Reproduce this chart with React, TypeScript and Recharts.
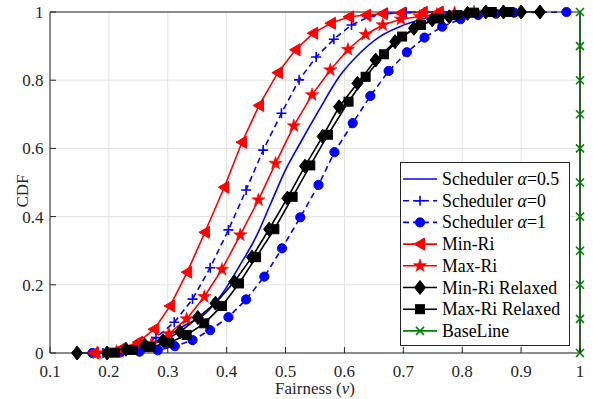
import { CartesianGrid, ComposedChart, Label, Legend, Line, XAxis, YAxis } from "recharts";

const FONT = "Liberation Serif, DejaVu Serif, serif";
const AXIS = "#262626";
const GRID = "#e2e2e2";
const RED = "#ff0000";
const BLUE = "#0000ff";
const BLACK = "#000000";
const GREEN = "#008000";

const X_TICKS = [0.1, 0.2, 0.3, 0.4, 0.5, 0.6, 0.7, 0.8, 0.9, 1];
const X_LABELS = ["0.1", "0.2", "0.3", "0.4", "0.5", "0.6", "0.7", "0.8", "0.9", "1"];
const Y_TICKS = [0, 0.2, 0.4, 0.6, 0.8, 1];
const Y_LABELS = ["0", "0.2", "0.4", "0.6", "0.8", "1"];

// Scheduler alpha=0.5 (plain blue line)
const sched05X = [0.19, 0.21, 0.24, 0.27, 0.3, 0.33, 0.364, 0.393, 0.421, 0.45, 0.475, 0.5, 0.523, 0.557, 0.591, 0.626, 0.66, 0.694, 0.728, 0.762, 0.8, 0.84];
const sched05Y = [0, 0.002, 0.01, 0.025, 0.05, 0.082, 0.116, 0.175, 0.253, 0.341, 0.439, 0.537, 0.61, 0.713, 0.81, 0.879, 0.928, 0.957, 0.977, 0.991, 0.998, 1];

// Scheduler alpha=0 (plus markers, dashed)
const sched0X = [0.19, 0.22, 0.25, 0.28, 0.311, 0.342, 0.372, 0.403, 0.433, 0.462, 0.493, 0.523, 0.552, 0.582, 0.612, 0.643, 0.673, 0.705, 0.736, 0.767];
const sched0Y = [0, 0.005, 0.018, 0.045, 0.09, 0.158, 0.25, 0.361, 0.478, 0.595, 0.703, 0.801, 0.868, 0.92, 0.962, 0.987, 0.996, 0.999, 1, 1];

// Scheduler alpha=1 (circle markers, dashed)
const sched1X = [0.172, 0.22, 0.252, 0.283, 0.312, 0.342, 0.372, 0.403, 0.433, 0.464, 0.494, 0.525, 0.556, 0.583, 0.614, 0.644, 0.675, 0.706, 0.736, 0.766, 0.797, 0.827, 0.857, 0.888, 0.977];
const sched1Y = [0, 0.002, 0.004, 0.008, 0.02, 0.038, 0.067, 0.105, 0.157, 0.224, 0.307, 0.398, 0.493, 0.589, 0.674, 0.754, 0.827, 0.882, 0.925, 0.957, 0.979, 0.991, 0.995, 0.998, 1];

// Min-Ri (left triangles)
const minRiX = [0.175, 0.22, 0.25, 0.277, 0.304, 0.333, 0.363, 0.396, 0.426, 0.455, 0.487, 0.517, 0.547, 0.577, 0.608, 0.637, 0.665, 0.696, 0.733, 0.76];
const minRiY = [0, 0.012, 0.032, 0.07, 0.138, 0.237, 0.354, 0.486, 0.618, 0.726, 0.822, 0.889, 0.938, 0.967, 0.986, 0.991, 0.995, 0.997, 0.999, 1];

// Max-Ri (stars)
const maxRiX = [0.18, 0.213, 0.243, 0.273, 0.302, 0.332, 0.362, 0.392, 0.423, 0.454, 0.483, 0.514, 0.545, 0.576, 0.606, 0.636, 0.665, 0.696, 0.728, 0.757, 0.787, 0.82];
const maxRiY = [0, 0.004, 0.014, 0.028, 0.056, 0.1, 0.165, 0.245, 0.346, 0.449, 0.556, 0.666, 0.757, 0.83, 0.89, 0.934, 0.962, 0.979, 0.987, 0.993, 0.997, 1];

// Min-Ri Relaxed (diamonds)
const minRelX = [0.146, 0.197, 0.229, 0.261, 0.292, 0.321, 0.351, 0.381, 0.413, 0.443, 0.472, 0.503, 0.533, 0.563, 0.591, 0.622, 0.653, 0.686, 0.718, 0.749, 0.778, 0.809, 0.84, 0.87, 0.9, 0.932];
const minRelY = [0, 0, 0.011, 0.023, 0.036, 0.062, 0.104, 0.146, 0.209, 0.281, 0.363, 0.454, 0.548, 0.635, 0.722, 0.791, 0.859, 0.913, 0.952, 0.977, 0.986, 0.996, 1, 1, 1, 1];

// Max-Ri Relaxed (squares)
const maxRelX = [0.21, 0.241, 0.271, 0.302, 0.332, 0.362, 0.392, 0.421, 0.45, 0.481, 0.512, 0.542, 0.572, 0.607, 0.636, 0.667, 0.698, 0.73, 0.761, 0.792, 0.82, 0.85, 0.88];
const maxRelY = [0.001, 0.009, 0.018, 0.03, 0.053, 0.087, 0.138, 0.204, 0.281, 0.363, 0.458, 0.55, 0.64, 0.737, 0.81, 0.876, 0.928, 0.962, 0.981, 0.991, 0.998, 1, 1];

// BaseLine (x markers at fairness 1)
const baseX = [1, 1, 1, 1, 1, 1, 1, 1, 1, 1, 1];
const baseY = [0, 0.1, 0.2, 0.3, 0.4, 0.5, 0.6, 0.7, 0.8, 0.9, 1];

const zip = (xs: number[], ys: number[]) => xs.map((x, i) => ({ x, y: ys[i] }));

type Marker = "none" | "plus" | "circle" | "triLeft" | "star" | "diamond" | "square" | "cross";

function MarkerShape({ cx, cy, kind, color }: { cx: number; cy: number; kind: Marker; color: string }) {
  switch (kind) {
    case "plus":
      return <path d={`M${cx - 5},${cy}H${cx + 5}M${cx},${cy - 5}V${cy + 5}`} stroke={color} strokeWidth={1.6} fill="none" />;
    case "cross":
      return <path d={`M${cx - 4},${cy - 4}L${cx + 4},${cy + 4}M${cx - 4},${cy + 4}L${cx + 4},${cy - 4}`} stroke={color} strokeWidth={1.6} fill="none" />;
    case "circle":
      return <circle cx={cx} cy={cy} r={4.6} fill={color} stroke={color} />;
    case "triLeft":
      return <polygon points={`${cx - 6},${cy} ${cx + 4.5},${cy - 6} ${cx + 4.5},${cy + 6}`} fill={color} stroke={color} />;
    case "diamond":
      return <polygon points={`${cx},${cy - 7} ${cx + 5.5},${cy} ${cx},${cy + 7} ${cx - 5.5},${cy}`} fill={color} stroke={color} />;
    case "square":
      return <rect x={cx - 4.5} y={cy - 4.5} width={9} height={9} fill={color} stroke={color} />;
    case "star": {
      const pts: string[] = [];
      for (let k = 0; k < 10; k++) {
        const r = k % 2 === 0 ? 7 : 2.8;
        const a = -Math.PI / 2 + (k * Math.PI) / 5;
        pts.push(`${cx + r * Math.cos(a)},${cy + r * Math.sin(a)}`);
      }
      return <polygon points={pts.join(" ")} fill={color} stroke={color} strokeWidth={0.5} />;
    }
    default:
      return null;
  }
}

type Series = {
  key: string;
  label: React.ReactNode;
  color: string;
  dash?: string;
  marker: Marker;
  smooth?: boolean;
  data: { x: number; y: number }[];
};

const alpha = (v: string) => (
  <>
    Scheduler <tspan fontStyle="italic">α</tspan>={v}
  </>
);

const SERIES: Series[] = [
  { key: "s05", label: alpha("0.5"), color: BLUE, marker: "none", smooth: true, data: zip(sched05X, sched05Y) },
  { key: "s0", label: alpha("0"), color: BLUE, dash: "6 4", marker: "plus", data: zip(sched0X, sched0Y) },
  { key: "s1", label: alpha("1"), color: BLUE, dash: "6 4", marker: "circle", data: zip(sched1X, sched1Y) },
  { key: "minRi", label: "Min-Ri", color: RED, marker: "triLeft", data: zip(minRiX, minRiY) },
  { key: "maxRi", label: "Max-Ri", color: RED, marker: "star", data: zip(maxRiX, maxRiY) },
  { key: "minRel", label: "Min-Ri Relaxed", color: BLACK, marker: "diamond", data: zip(minRelX, minRelY) },
  { key: "maxRel", label: "Max-Ri Relaxed", color: BLACK, marker: "square", data: zip(maxRelX, maxRelY) },
  { key: "base", label: "BaseLine", color: GREEN, marker: "cross", data: zip(baseX, baseY) },
];

const textStyle = { fontFamily: FONT, fontSize: 17 };

type TickProps = { x?: number; y?: number; index?: number };

function BottomTick({ x = 0, y = 0, index = 0 }: TickProps) {
  return (
    <g>
      <line x1={x} y1={y} x2={x} y2={y - 6} stroke={AXIS} />
      <text x={x} y={y + 24} textAnchor="middle" style={textStyle} fill={AXIS}>
        {X_LABELS[index]}
      </text>
    </g>
  );
}

function TopTick({ x = 0, y = 0 }: TickProps) {
  return <line x1={x} y1={y} x2={x} y2={y + 6} stroke={AXIS} />;
}

function LeftTick({ x = 0, y = 0, index = 0 }: TickProps) {
  return (
    <g>
      <line x1={x} y1={y} x2={x + 6} y2={y} stroke={AXIS} />
      <text x={x - 6.5} y={y + 6} textAnchor="end" style={textStyle} fill={AXIS}>
        {Y_LABELS[index]}
      </text>
    </g>
  );
}

function RightTick({ x = 0, y = 0 }: TickProps) {
  return <line x1={x} y1={y} x2={x - 6} y2={y} stroke={AXIS} />;
}

function LegendBox() {
  const rowH = 21.7;
  return (
    <svg width={170} height={184} style={{ display: "block" }}>
      <rect x={0.5} y={0.5} width={169} height={183} fill="#fff" stroke={AXIS} strokeWidth={1} />
      {SERIES.map((s, i) => {
        const cy = 17 + i * rowH;
        return (
          <g key={s.key}>
            <line x1={3} y1={cy} x2={37} y2={cy} stroke={s.color} strokeWidth={1.6} strokeDasharray={s.dash} />
            <MarkerShape cx={20} cy={cy} kind={s.marker} color={s.color} />
            <text x={42} y={cy + 6} style={{ fontFamily: FONT, fontSize: 17.8 }} fill="#000">
              {s.label}
            </text>
          </g>
        );
      })}
    </svg>
  );
}

export default function App() {
  return (
    <div style={{ position: "absolute", left: 0, top: 0, width: 593, height: 399, background: "#fff" }}>
      <ComposedChart width={593} height={399} margin={{ top: 0, right: 0, bottom: 0, left: 0 }}>
        <CartesianGrid stroke={GRID} strokeWidth={1} />
        <XAxis
          dataKey="x"
          type="number"
          domain={[0.1, 1]}
          ticks={X_TICKS}
          interval={0}
          height={46}
          tickSize={0}
          tickMargin={0}
          tickLine={false}
          axisLine={{ stroke: AXIS }}
          tick={(p: object) => <BottomTick {...(p as TickProps)} />}
        >
          <Label
            content={() => (
              <text x={315} y={394} textAnchor="middle" style={textStyle} fill={AXIS}>
                Fairness (<tspan fontStyle="italic">ν</tspan>)
              </text>
            )}
          />
        </XAxis>
        <XAxis
          xAxisId="top"
          orientation="top"
          type="number"
          domain={[0.1, 1]}
          ticks={X_TICKS}
          interval={0}
          height={12}
          tickSize={0}
          tickMargin={0}
          tickLine={false}
          axisLine={{ stroke: AXIS }}
          tick={(p: object) => <TopTick {...(p as TickProps)} />}
        />
        <YAxis
          type="number"
          domain={[0, 1]}
          ticks={Y_TICKS}
          interval={0}
          width={50}
          tickSize={0}
          tickMargin={0}
          tickLine={false}
          axisLine={{ stroke: AXIS }}
          tick={(p: object) => <LeftTick {...(p as TickProps)} />}
        >
          <Label
            content={() => (
              <text
                x={22}
                y={191}
                transform="rotate(-90, 22, 191)"
                textAnchor="middle"
                dominantBaseline="central"
                style={textStyle}
                fill={AXIS}
              >
                CDF
              </text>
            )}
          />
        </YAxis>
        <YAxis
          yAxisId="right"
          orientation="right"
          type="number"
          domain={[0, 1]}
          ticks={Y_TICKS}
          interval={0}
          width={13}
          tickSize={0}
          tickMargin={0}
          tickLine={false}
          axisLine={{ stroke: AXIS }}
          tick={(p: object) => <RightTick {...(p as TickProps)} />}
        />
        {SERIES.map((s) => (
          <Line
            key={s.key}
            data={s.data}
            dataKey="y"
            type={s.smooth ? "monotone" : "linear"}
            stroke={s.color}
            strokeWidth={1.6}
            strokeDasharray={s.dash}
            isAnimationActive={false}
            activeDot={false}
            dot={
              s.marker === "none"
                ? false
                : (p: { cx?: number; cy?: number; index?: number }) => (
                    <MarkerShape key={`${s.key}-${p.index}`} cx={p.cx ?? 0} cy={p.cy ?? 0} kind={s.marker} color={s.color} />
                  )
            }
          />
        ))}
        <Legend
          layout="vertical"
          align="center"
          verticalAlign="middle"
          wrapperStyle={{ left: 400, top: 162, width: 170, height: 184 }}
          content={() => <LegendBox />}
        />
      </ComposedChart>
    </div>
  );
}
